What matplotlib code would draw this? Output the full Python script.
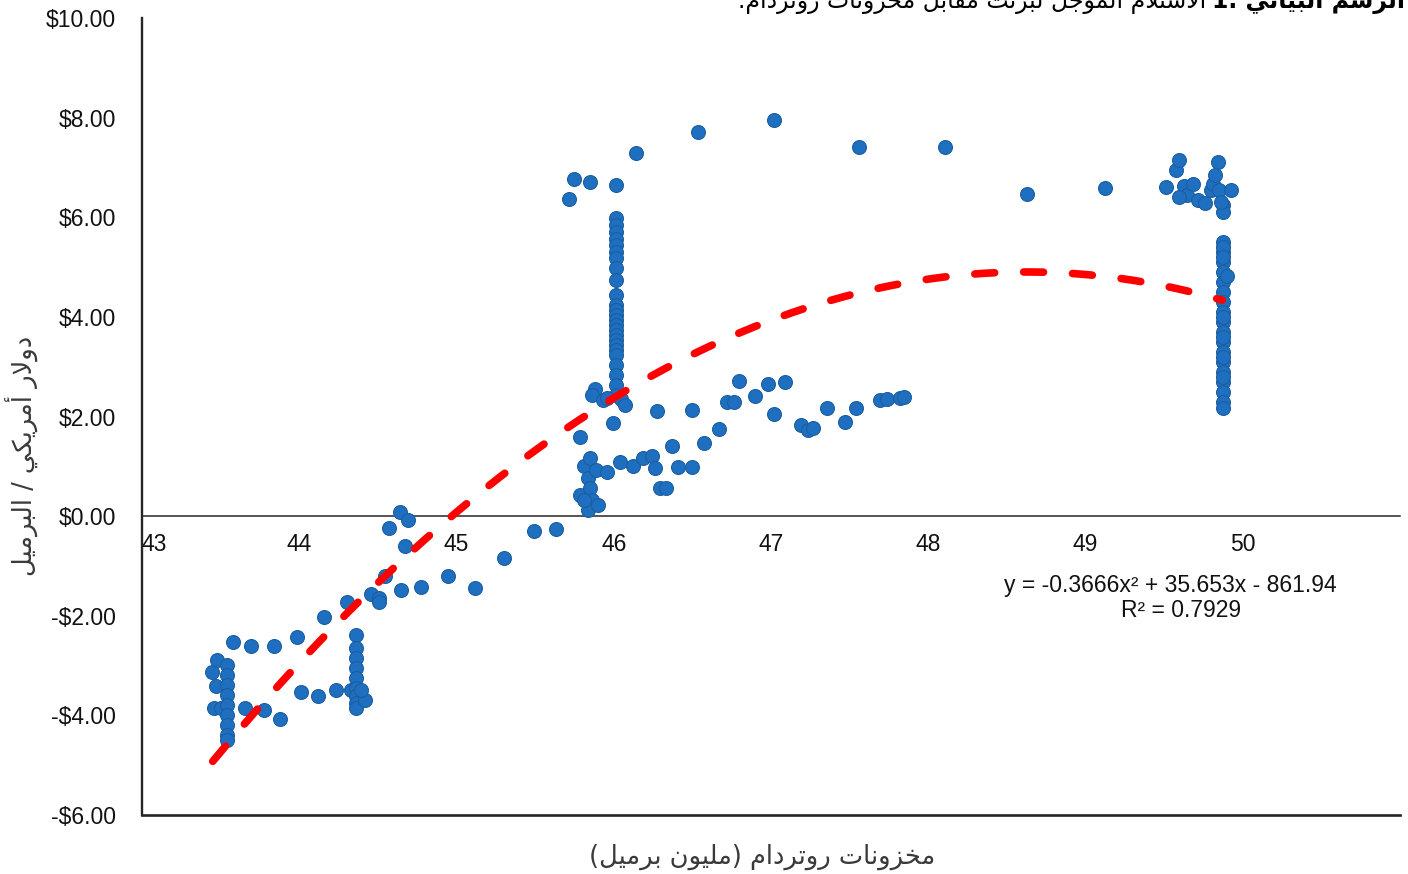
import numpy as np
import matplotlib
matplotlib.use("Agg")
import matplotlib.pyplot as plt

# --- simple Arabic shaping (presentation forms) + right-to-left ordering ---
LETTERS = "ءآأؤإئابةتثجحخدذرزسشصضطظعغفقكلمنهوىي"
COUNTS = [1, 2, 2, 2, 2, 4, 2, 4, 2, 4, 4, 4, 4, 4, 2, 2, 2, 2,
          4, 4, 4, 4, 4, 4, 4, 4, 4, 4, 4, 4, 4, 4, 4, 2, 2, 4]
FORMS = {}
code = 0xFE80
for ch, cnt in zip(LETTERS, COUNTS):
    FORMS[ch] = [chr(code + k) for k in range(cnt)]
    code += cnt
LAM_ALEF = {"آ": 0xFEF5, "أ": 0xFEF7, "إ": 0xFEF9, "ا": 0xFEFB}


def shape(text):
    out = []
    prev_joins = False
    i = 0
    while i < len(text):
        c = text[i]
        if c not in FORMS:
            out.append(c)
            prev_joins = False
            i += 1
            continue
        if c == "ل" and i + 1 < len(text) and text[i + 1] in LAM_ALEF:
            out.append(chr(LAM_ALEF[text[i + 1]] + (1 if prev_joins else 0)))
            prev_joins = False
            i += 2
            continue
        forms = FORMS[c]
        nxt = text[i + 1] if i + 1 < len(text) else ""
        can_next = len(forms) == 4 and nxt in FORMS
        if prev_joins and can_next:
            f = forms[3]
        elif prev_joins:
            f = forms[1] if len(forms) > 1 else forms[0]
        elif can_next:
            f = forms[2]
        else:
            f = forms[0]
        out.append(f)
        prev_joins = len(forms) == 4
        i += 1
    return "".join(out)


def rtl(text):
    s = shape(text)[::-1]
    return s.translate(str.maketrans("()", ")("))


# --- data ---
x_vals = [
    # left cluster around 43.5
    43.446, 43.478, 43.471, 43.459, 43.503, 43.541, 43.541, 43.541, 43.541,
    43.541, 43.541, 43.541, 43.541, 43.541, 43.580, 43.694, 43.656, 43.841,
    43.777, 43.879, 43.987, 44.013, 44.121, 44.159, 44.236, 44.306, 44.331,
    # column near 44.36
    44.363, 44.363, 44.363, 44.363, 44.363, 44.363, 44.363, 44.363, 44.363,
    44.420, 44.395,
    44.459, 44.510, 44.510, 44.548, 44.573, 44.643, 44.694, 44.675, 44.650,
    44.777, 44.949, 45.115, 45.299, 45.490, 45.631,
    # around 46
    45.713, 45.745, 45.847, 46.013,
    46.013, 46.013, 46.013, 46.013, 46.013, 46.013, 46.013, 46.013, 46.013,
    46.013, 46.013, 46.013, 46.013, 46.013, 46.013, 46.013, 46.013,
    46.013, 46.013, 46.013, 46.013, 46.013, 46.013, 46.013, 46.013,
    45.783, 45.879, 45.860, 45.930, 45.955, 46.045, 46.070, 45.994,
    45.809, 45.847, 45.834, 45.885, 45.783, 45.847, 45.860, 45.834, 45.898,
    45.809, 45.955, 46.038, 46.121, 46.185, 46.242, 46.261, 46.293, 46.331,
    46.274, 46.369, 46.408, 46.497, 46.497, 46.573, 46.669, 46.720, 46.764,
    46.796, 46.898, 46.981, 47.089, 47.019, 47.191, 47.236, 47.268, 47.357,
    47.471, 47.541, 47.694, 47.739, 47.822, 47.847,
    # top
    46.140, 46.535, 47.019, 47.561, 48.108, 48.631, 49.121,
    # right cluster
    49.510, 49.573, 49.592, 49.624, 49.643, 49.682, 49.713, 49.758, 49.796,
    49.809, 49.841, 49.822, 49.847, 49.873, 49.873, 49.924, 49.592, 49.860,
    49.873, 49.873, 49.873, 49.873, 49.873, 49.873, 49.873, 49.873, 49.873,
    49.873, 49.873, 49.873, 49.873, 49.873, 49.873, 49.873, 49.873, 49.873,
    49.873, 49.873, 49.873, 49.873, 49.873, 49.873, 49.898,
]
y_vals = [
    -3.13, -2.89, -3.41, -3.86, -3.86, -2.99, -3.19, -3.39, -3.59,
    -3.80, -4.00, -4.20, -4.40, -4.50, -2.53, -2.61, -3.86, -2.61,
    -3.90, -4.08, -2.43, -3.53, -3.61, -2.03, -3.49, -1.73, -3.49,
    -2.39, -2.65, -2.85, -3.05, -3.25, -3.45, -3.61, -3.76, -3.86,
    -3.69, -3.49,
    -1.57, -1.65, -1.73, -1.20, -0.24, 0.08, -0.08, -0.60, -1.49,
    -1.43, -1.20, -1.45, -0.84, -0.30, -0.26,
    6.37, 6.77, 6.71, 6.65,
    5.98, 5.84, 5.70, 5.57, 5.44, 5.31, 5.18, 4.98, 4.74,
    4.44, 4.24, 4.14, 4.04, 3.94, 3.84, 3.73, 3.63,
    3.53, 3.43, 3.33, 3.23, 3.03, 2.83, 2.63, 2.43,
    1.59, 2.55, 2.43, 2.33, 2.37, 2.35, 2.23, 1.87,
    1.00, 1.16, 0.76, 0.92, 0.42, 0.56, 0.32, 0.12, 0.22,
    0.32, 0.88, 1.08, 1.00, 1.16, 1.20, 0.96, 0.56, 0.56,
    2.11, 1.41, 0.98, 0.98, 2.13, 1.47, 1.75, 2.29, 2.29,
    2.71, 2.41, 2.65, 2.69, 2.05, 1.83, 1.73, 1.77, 2.17,
    1.89, 2.17, 2.33, 2.35, 2.37, 2.39,
    7.29, 7.71, 7.95, 7.41, 7.41, 6.47, 6.59,
    6.61, 6.95, 7.15, 6.63, 6.45, 6.67, 6.35, 6.29, 6.55,
    6.67, 7.11, 6.85, 6.55, 6.24, 6.10, 6.55, 6.40, 6.30,
    5.50, 5.30, 5.10, 4.90, 4.70, 4.50, 4.30, 4.10, 3.90,
    3.70, 3.50, 3.30, 3.10, 2.90, 2.70, 2.50, 2.30, 2.17,
    5.40, 5.20, 4.00, 3.60, 3.20, 2.80, 4.82,
]

# Excel polynomial trendline shown on the chart
trend_coef = [-0.3666, 35.653, -861.94]
trend_range = [43.45, 49.87]
x_ticks = [43, 44, 45, 46, 47, 48, 49, 50]
y_ticks = [-6, -4, -2, 0, 2, 4, 6, 8, 10]

title_bold = "الرسم البياني"
title_rest = "الاستلام المؤجل لبرنت مقابل مخزونات روتردام."
x_label = "مخزونات روتردام (مليون برميل)"
y_label = "دولار أمريكي / البرميل"
eq_text = "y = -0.3666x² + 35.653x - 861.94"
r2_text = "R² = 0.7929"

plt.rcParams["font.family"] = ["Liberation Sans", "DejaVu Sans"]

fig = plt.figure(figsize=(14.08, 8.74), dpi=100)
ax = fig.add_axes([142 / 1408, 59 / 874, 1258 / 1408, 797 / 874])
ax.set_xlim(43, 51)
ax.set_ylim(-6, 10)

dark = "#262626"
ax.scatter(x_vals, y_vals, s=100, facecolor="#1F6FC1", edgecolor="#1B5E9F",
           linewidth=0.8, zorder=3)

xs = np.linspace(trend_range[0], trend_range[1], 400)
ax.plot(xs, np.polyval(trend_coef, xs), color="#FF0000", lw=5.5,
        dashes=(2.6, 3.8), dash_capstyle="round", zorder=4)

for s in ["top", "right"]:
    ax.spines[s].set_visible(False)
ax.spines["left"].set_color(dark)
ax.spines["left"].set_linewidth(1.7)
ax.spines["bottom"].set_position(("data", 0))
ax.spines["bottom"].set_color(dark)
ax.spines["bottom"].set_linewidth(1.1)
ax.axhline(-6, color=dark, lw=1.9, clip_on=False)

ax.set_xticks(x_ticks)
ax.set_xticklabels([str(t) for t in x_ticks])
ax.set_yticks(y_ticks)
ax.set_yticklabels([("-$%.2f" % -v) if v < 0 else ("$%.2f" % v) for v in y_ticks])
ax.tick_params(axis="both", length=0, labelsize=16.5, colors="#111111")
ax.tick_params(axis="x", pad=12)
ax.tick_params(axis="y", pad=19)
ax.get_xticklabels()[0].set_ha("left")

ax.text(49.54, -1.39, eq_text, fontsize=16.5, ha="center", va="center", color="#111111")
ax.text(49.61, -1.89, r2_text, fontsize=16.5, ha="center", va="center", color="#111111")

fig.text(762 / 1408, 1 - 857 / 874, rtl(x_label), fontsize=18.5, ha="center",
         va="center", color="#3a3a3a", family="DejaVu Sans")
fig.text(22 / 1408, 1 - 456 / 874, rtl(y_label), fontsize=18.5, ha="center",
         va="center", rotation=90, color="#3a3a3a", family="DejaVu Sans")

# title, cut by the top edge as in the source
tb = fig.text(1405 / 1408, 1 - 8 / 874, "1. " + rtl(title_bold), fontsize=17,
              ha="right", va="baseline", weight="bold", family="DejaVu Sans")
fig.canvas.draw()
bb = tb.get_window_extent()
fig.text((bb.x0 - 6) / 1408, 1 - 8 / 874, rtl(title_rest), fontsize=17,
         ha="right", va="baseline", family="DejaVu Sans")

fig.savefig("out.png", dpi=100)
